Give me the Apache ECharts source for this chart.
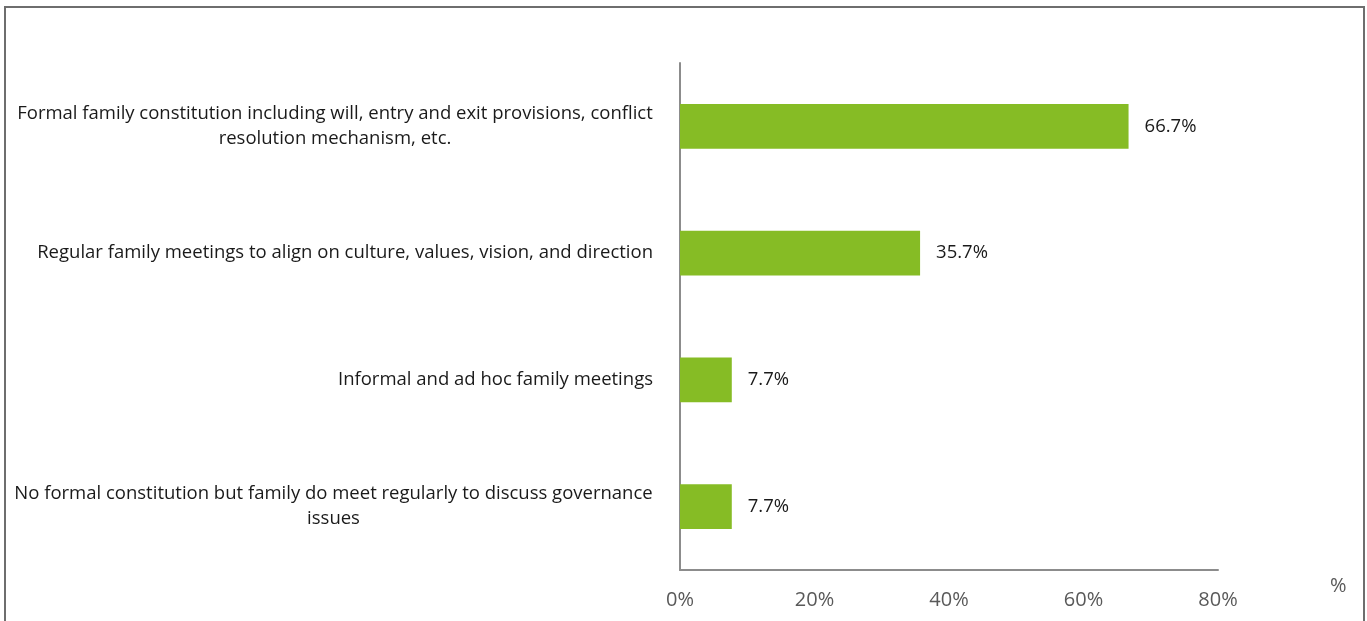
<!DOCTYPE html>
<html>
<head>
<meta charset="utf-8">
<script src="https://cdn.jsdelivr.net/npm/echarts@6/dist/echarts.min.js"></script>
<style>
  html, body { margin: 0; padding: 0; background: #fff; }
  #chart { width: 1367px; height: 621px; }
</style>
</head>
<body>
<div id="chart"></div>
<script>
// Governance mechanisms used by families (share of respondents)
const categories = [
  'Formal family constitution including will, entry and exit provisions, conflict\nresolution mechanism, etc.',
  'Regular family meetings to align on culture, values, vision, and direction',
  'Informal and ad hoc family meetings',
  'No formal constitution but family do meet regularly to discuss governance\nissues'
];
const shares = [66.7, 35.7, 7.7, 7.7];
const axisMin = 0;
const axisMax = 80;
const axisStep = 20;

const FONT = '"Open Sans", "Noto Sans", sans-serif';
const CAT_SIZE = 18.5;
const VAL_SIZE = 18.5;
const TICK_SIZE = 20;

// measure a line so wrapped labels can centre their second line under the first
const ctx = document.createElement('canvas').getContext('2d');
function textWidth(str, size) {
  ctx.font = size + 'px ' + FONT;
  return Math.ceil(ctx.measureText(str).width);
}

const rich = {};
categories.forEach((c, i) => {
  const lines = c.split('\n');
  const w = textWidth(lines[0], CAT_SIZE);
  rich['r' + i] = {
    width: w, align: 'center', fontSize: CAT_SIZE, fontFamily: FONT,
    color: '#1a1a1a', lineHeight: 25
  };
});

const chart = echarts.init(document.getElementById('chart'), null, { renderer: 'canvas' });
chart.setOption({
  animation: false,
  backgroundColor: '#fff',
  grid: { left: 680, right: 149, top: 63, bottom: 51, containLabel: false },
  graphic: [{
    type: 'rect', silent: true, z: -1,
    shape: { x: 5, y: 7, width: 1359, height: 700 },
    style: { fill: 'none', stroke: '#6e6e6e', lineWidth: 2 }
  }],
  xAxis: {
    type: 'value', min: axisMin, max: axisMax, interval: axisStep,
    name: '%', nameLocation: 'end', nameGap: 112,
    nameTextStyle: { color: '#595959', fontSize: TICK_SIZE, fontFamily: FONT, verticalAlign: 'top', padding: [6, 0, 0, 0] },
    axisLine: { show: true, lineStyle: { color: '#8c8c8c', width: 2 } },
    axisTick: { show: false },
    splitLine: { show: false },
    axisLabel: {
      formatter: '{value}%', color: '#595959', fontSize: TICK_SIZE, fontFamily: FONT, margin: 20
    }
  },
  yAxis: {
    type: 'category', data: categories, inverse: true,
    axisLine: { show: true, lineStyle: { color: '#8c8c8c', width: 2 } },
    axisTick: { show: false },
    axisLabel: {
      margin: 27, color: '#1a1a1a', fontSize: CAT_SIZE, fontFamily: FONT, lineHeight: 25,
      formatter: (v, i) => {
        const lines = v.split('\n');
        if (lines.length === 1) return v;
        return lines.map(l => '{r' + i + '|' + l + '}').join('\n');
      },
      rich: rich
    }
  },
  series: [{
    type: 'bar', data: shares, barWidth: '35.5%',
    itemStyle: { color: '#86bc25' },
    label: {
      show: true, position: 'right', distance: 16,
      formatter: p => p.value.toFixed(1) + '%',
      color: '#1a1a1a', fontSize: VAL_SIZE, fontFamily: FONT
    }
  }]
});
</script>
</body>
</html>
